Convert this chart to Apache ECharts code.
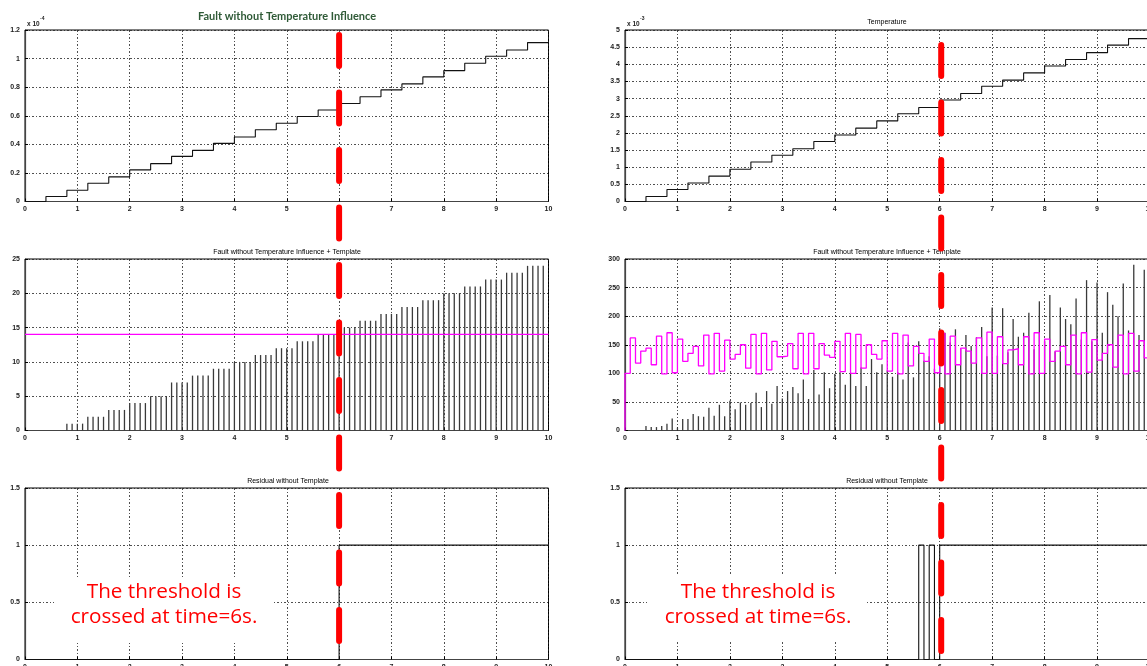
<!DOCTYPE html>
<html>
<head>
<meta charset="utf-8">
<script src="https://cdn.jsdelivr.net/npm/echarts@6/dist/echarts.min.js"></script>
<style>
html,body{margin:0;padding:0;background:#fff;}
#chart{width:1147px;height:666px;}
</style>
</head>
<body>
<div id="chart"></div>
<script>
// ---------- DATA ----------
// Stair sample times (s)
const stairT = [0,0.4,0.8,1.2,1.6,2.0,2.4,2.8,3.2,3.6,4.0,4.4,4.8,5.2,5.6,6.0,6.4,6.8,7.2,7.6,8.0,8.4,8.8,9.2,9.6,10];
// Fault without temperature influence (units of 1e-4)
const faultStairs = [0,0.035,0.079,0.128,0.172,0.221,0.265,0.316,0.358,0.407,0.451,0.502,0.547,0.595,0.640,0.686,0.733,0.781,0.823,0.872,0.916,0.967,1.016,1.060,1.112,1.112];
// Temperature (units of 1e-3)
const tempStairs = [0,0.146,0.35,0.54,0.74,0.94,1.15,1.35,1.54,1.75,1.94,2.14,2.35,2.56,2.74,2.96,3.15,3.36,3.54,3.75,3.95,4.14,4.34,4.56,4.75,4.75];

// Sample times for stems / template (s)
const sampleT = [
 0.0,0.1,0.2,0.3,0.4,0.5,0.6,0.7,0.8,0.9,
 1.0,1.1,1.2,1.3,1.4,1.5,1.6,1.7,1.8,1.9,
 2.0,2.1,2.2,2.3,2.4,2.5,2.6,2.7,2.8,2.9,
 3.0,3.1,3.2,3.3,3.4,3.5,3.6,3.7,3.8,3.9,
 4.0,4.1,4.2,4.3,4.4,4.5,4.6,4.7,4.8,4.9,
 5.0,5.1,5.2,5.3,5.4,5.5,5.6,5.7,5.8,5.9,
 6.0,6.1,6.2,6.3,6.4,6.5,6.6,6.7,6.8,6.9,
 7.0,7.1,7.2,7.3,7.4,7.5,7.6,7.7,7.8,7.9,
 8.0,8.1,8.2,8.3,8.4,8.5,8.6,8.7,8.8,8.9,
 9.0,9.1,9.2,9.3,9.4,9.5,9.6,9.7,9.8,9.9
];
// Fault without temperature influence + template (left, stems)
const faultTplStems = [
 0,0,0,0,0,0,0,0,1,1,
 1,1,2,2,2,2,3,3,3,3,
 4,4,4,4,5,5,5,5,7,7,
 7,7,8,8,8,8,9,9,9,9,
 10,10,10,10,11,11,11,11,12,12,
 12,12,13,13,13,13,14,14,14,14,
 15,15,15,15,16,16,16,16,17,17,
 17,17,18,18,18,18,19,19,19,19,
 20,20,20,20,21,21,21,21,22,22,
 22,22,23,23,23,23,24,24,24,24
];
const thresholdLeft = 14;
// Temperature-influenced fault + template (right, stems)
const tempTplStems = [
 0,0,0,0,8,6,6,8,12,21,
 5,20,20,29,25,24,40,26,45,25,
 52,37,49,45,48,66,41,69,47,78,
 56,69,76,65,89,55,106,63,102,74,
 99,102,80,99,78,110,78,125,102,116,
 105,94,102,89,154,93,156,122,130,108,
 179,171,154,177,143,167,148,163,181,130,
 215,131,214,137,195,164,171,206,142,226,
 156,237,138,215,195,186,231,159,263,156,
 259,171,242,220,200,257,175,290,167,281
];
// Template (magenta stairs, right)
const templateRight = [
 100,162,118,139,144,115,165,99,171,101,
 160,121,135,147,113,167,99,170,104,158,
 125,133,150,109,168,99,170,106,156,129,
 130,152,108,170,99,170,108,152,132,128,
 156,103,170,100,168,109,150,133,125,157,
 104,170,99,167,113,147,135,121,160,101,
 170,99,165,115,144,139,118,162,100,172,
 100,164,117,141,143,115,164,99,171,100,
 160,121,139,147,115,167,99,171,102,159,
 123,135,150,111,167,99,170,104,157,127
];
// Residuals (step points)
const residualLeftT = [0,6,10];
const residualLeftV = [0,1,1];
const residualRightT = [0,5.6,5.7,5.8,5.9,6,10];
const residualRightV = [0,1,0,1,0,1,1];
const thresholdTime = 6;

const titles = {
  tl: 'Fault without Temperature Influence',
  tr: 'Temperature',
  ml: 'Fault without Temperature Influence + Template',
  mr: 'Fault without Temperature Influence + Template',
  bl: 'Residual without Template',
  br: 'Residual without Template'
};
const noteLine1 = 'The threshold is';
const noteLine2 = 'crossed at time=6s.';

// ---------- CHART ----------
const chart = echarts.init(document.getElementById('chart'), null, {renderer:'canvas'});
const LX = 25, RX = 625, WL = 523.5, WR = 524.5, H = 171.5;
const tops = [30, 259, 488];
function grid(left, top, w){ return {left:left, top:top, width:w, height:H, show:true, borderColor:'#000', borderWidth:1, backgroundColor:'transparent', outerBoundsMode:'none', containLabel:false}; }
const grids = [
  grid(LX,tops[0],WL), grid(RX,tops[0],WR),
  grid(LX,tops[1],WL), grid(RX,tops[1],WR),
  grid(LX,tops[2],WL), grid(RX,tops[2],WR),
  {left:LX, top:35, width:WL, height:616, show:false, outerBoundsMode:'none'},
  {left:RX+1.5, top:45, width:WR, height:612, show:false, outerBoundsMode:'none'}
];
const lblFont = {fontSize:7, fontWeight:'bold', color:'#222', fontFamily:'Liberation Sans'};
const gridLine = {show:true, lineStyle:{color:'#222', width:0.8, type:[2,2,1,2]}};
function fmt(v){ return String(+v.toFixed(2)); }
function xAx(i){
  return {type:'value', gridIndex:i, min:0, max:10, interval:1,
    axisLine:{show:true, onZero:false, lineStyle:{color:'#444', width:1.2}},
    axisTick:{show:true, inside:true, length:3, lineStyle:{color:'#000'}},
    axisLabel:Object.assign({margin:4, formatter:fmt, showMaxLabel:true, showMinLabel:true, hideOverlap:false}, lblFont),
    splitLine:gridLine};
}
function yAx(i, max, interval){
  return {type:'value', gridIndex:i, min:0, max:max, interval:interval,
    axisLine:{show:true, lineStyle:{color:'#444', width:1.2}},
    axisTick:{show:true, inside:true, length:3, lineStyle:{color:'#000'}},
    axisLabel:Object.assign({margin:5, formatter:fmt}, lblFont),
    splitLine:gridLine};
}
const xAxes = [0,1,2,3,4,5].map(xAx).concat([
  {type:'value', gridIndex:6, min:0, max:10, show:false},
  {type:'value', gridIndex:7, min:0, max:10, show:false}
]);
const yAxes = [
  yAx(0,1.2,0.2), yAx(1,5,0.5), yAx(2,25,5), yAx(3,300,50), yAx(4,1.5,0.5), yAx(5,1.5,0.5),
  {type:'value', gridIndex:6, min:0, max:1, show:false},
  {type:'value', gridIndex:7, min:0, max:1, show:false}
];
function zip(a,b){ return a.map((t,i)=>[t,b[i]]); }
const stepStyle = {color:'#111', width:1.1};
const series = [
  {type:'line', xAxisIndex:0, yAxisIndex:0, step:'end', symbol:'none', data:zip(stairT,faultStairs), lineStyle:stepStyle, z:3},
  {type:'line', xAxisIndex:1, yAxisIndex:1, step:'end', symbol:'none', data:zip(stairT,tempStairs), lineStyle:stepStyle, z:3},
  {type:'bar', xAxisIndex:2, yAxisIndex:2, barWidth:1.3, data:zip(sampleT,faultTplStems), itemStyle:{color:'#3a3a3a'}, z:3},
  {type:'line', xAxisIndex:2, yAxisIndex:2, symbol:'none', data:[[0,thresholdLeft],[10,thresholdLeft]], lineStyle:{color:'#ff00ff', width:1.3}, z:4},
  {type:'bar', xAxisIndex:3, yAxisIndex:3, barWidth:1.3, data:zip(sampleT,tempTplStems), itemStyle:{color:'#3a3a3a'}, z:3},
  {type:'line', xAxisIndex:3, yAxisIndex:3, step:'end', symbol:'none',
    data:[[0,0]].concat(zip(sampleT,templateRight)).concat([[10,templateRight[templateRight.length-1]]]),
    lineStyle:{color:'#ff00ff', width:1.3}, z:4},
  {type:'line', xAxisIndex:4, yAxisIndex:4, step:'end', symbol:'none', data:zip(residualLeftT,residualLeftV), lineStyle:stepStyle, z:3},
  {type:'line', xAxisIndex:5, yAxisIndex:5, step:'end', symbol:'none', data:zip(residualRightT,residualRightV), lineStyle:stepStyle, z:3},
  {type:'line', xAxisIndex:6, yAxisIndex:6, symbol:'none', clip:false, data:[[thresholdTime,1],[thresholdTime,0]],
    lineStyle:{color:'#ff0000', width:6, type:[31,26.5], cap:'round'}, z:20},
  {type:'line', xAxisIndex:7, yAxisIndex:7, symbol:'none', clip:false, data:[[thresholdTime,1],[thresholdTime,0]],
    lineStyle:{color:'#ff0000', width:6, type:[31,26.5], cap:'round'}, z:20}
];
function txt(x,y,text,font,fill,align){
  return {type:'text', x:x, y:y, z:10, style:{text:text, font:font, fill:fill||'#000', textAlign:align||'center', textVerticalAlign:'middle'}};
}
const smallTitle = '7px "Liberation Sans", Arial, sans-serif';
const noteFont = '20.7px "Open Sans", "Noto Sans", sans-serif';
const graphic = [
  txt(287,16,titles.tl,'bold 11px Lato, "Open Sans", sans-serif','#2f5a37'),
  txt(887,22,titles.tr,smallTitle),
  txt(287,252,titles.ml,smallTitle),
  txt(887,252,titles.mr,smallTitle),
  txt(288,481,titles.bl,smallTitle),
  txt(887,481,titles.br,smallTitle),
  txt(27,24,'x 10','bold 6.5px "Liberation Sans", Arial','#222','left'),
  txt(40,19,'-4','bold 5px "Liberation Sans", Arial','#222','left'),
  txt(627,24,'x 10','bold 6.5px "Liberation Sans", Arial','#222','left'),
  txt(640,19,'-3','bold 5px "Liberation Sans", Arial','#222','left'),
  {type:'rect', z:9, shape:{x:54, y:578, width:218, height:65}, style:{fill:'#fff'}},
  {type:'rect', z:9, shape:{x:647, y:575, width:219, height:66}, style:{fill:'#fff'}},
  txt(164,592,noteLine1,noteFont,'#ff0000'),
  txt(164,617,noteLine2,noteFont,'#ff0000'),
  txt(758,592,noteLine1,noteFont,'#ff0000'),
  txt(758,617,noteLine2,noteFont,'#ff0000')
];
chart.setOption({animation:false, backgroundColor:'#fff', grid:grids, xAxis:xAxes, yAxis:yAxes, series:series, graphic:graphic});
</script>
</body>
</html>
